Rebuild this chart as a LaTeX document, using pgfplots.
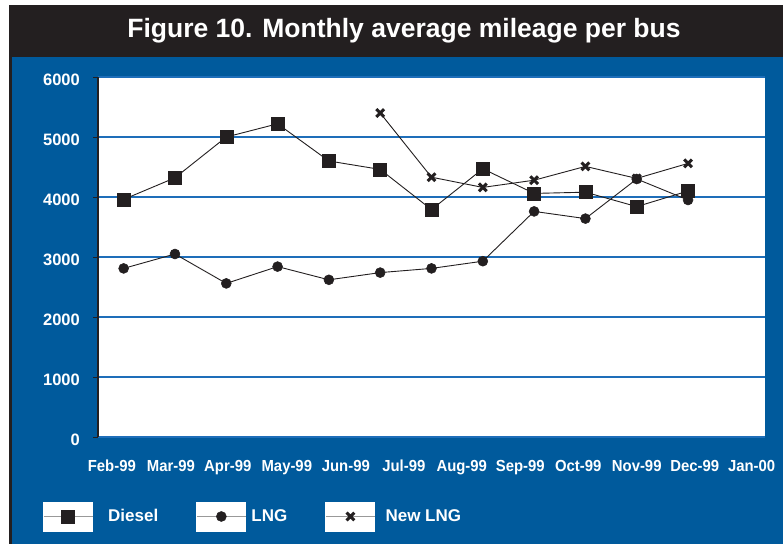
\documentclass[border=0pt]{standalone}
\usepackage{fontspec}
\setmainfont{Liberation Sans}
\newfontfamily\condfont{Liberation Sans}[FakeStretch=0.93]
\usepackage{pgfplots}
\pgfplotsset{compat=1.18}

\definecolor{bgblue}{RGB}{0,90,156}
\definecolor{titlebar}{RGB}{35,31,32}
\definecolor{gridblue}{RGB}{30,110,185}
\definecolor{ink}{RGB}{35,31,32}

\begin{document}
\begin{tikzpicture}[x=1pt,y=1pt]
\useasboundingbox (0,0) rectangle (783,544);
\fill[white] (0,0) rectangle (783,544);
\fill[titlebar] (9,0) rectangle (783,539);
\fill[bgblue] (12,0) rectangle (783,487);
\node[text=white, font=\bfseries\fontsize{26.5}{30}\selectfont] at (404,513)
  {Figure 10. Monthly average mileage per bus};

\begin{axis}[
  at={(98pt,107pt)}, anchor=south west,
  scale only axis, width=667pt, height=360pt,
  xmin=-0.5, xmax=12.5, ymin=0, ymax=6000,
  axis background/.style={fill=white},
  axis y line*=left, axis x line*=bottom,
  x axis line style={draw=none},
  y axis line style={ink, line width=1.2pt},
  tick align=outside, major tick length=5pt,
  ytick={0,1000,2000,3000,4000,5000,6000},
  yticklabels={0,1000,2000,3000,4000,5000,6000},
  ytick style={ink, line width=1pt},
  ymajorgrids,
  major grid style={draw=gridblue, line width=1.1pt},
  yticklabel style={text=white, inner sep=0pt, xshift=-13pt, yshift=-3pt,
    font=\bfseries\fontsize{16.5}{18}\selectfont},
  xtick={-0.23,0.92,2.03,3.18,4.33,5.46,6.59,7.73,8.86,10.00,11.13,12.24},
  xticklabels={Feb-99,Mar-99,Apr-99,May-99,Jun-99,Jul-99,Aug-99,Sep-99,Oct-99,Nov-99,Dec-99,Jan-00},
  xtick style={draw=none},
  xticklabel style={text=white, inner sep=0pt, yshift=-18pt,
    font=\condfont\bfseries\fontsize{16}{18}\selectfont},
  legend image code/.code={
    \fill[white] (0pt,-14.5pt) rectangle (49pt,14.5pt);
    \draw[gray!80, line width=1.2pt] (0pt,0pt) -- (49pt,0pt);
    \draw[#1] plot coordinates {(24.5pt,0pt)};
  },
  legend columns=3,
  legend style={at={(axis description cs:-0.0825,-0.2208)}, anchor=west,
    draw=none, fill=none, inner sep=0pt, outer sep=0pt,
    nodes={inner sep=0pt, text=white, font=\bfseries\fontsize{17}{20}\selectfont},
    /tikz/every odd column/.append style={column sep=5pt},
    /tikz/every even column/.append style={column sep=38pt}},
]
\addplot[ink, line width=0.9pt, mark=square*, mark size=6.5pt,
  mark options={fill=ink, draw=ink, line width=0.5pt}] coordinates {
  (0,3960) (1,4320) (2,5000) (3,5220) (4,4600) (5,4460)
  (6,3790) (7,4470) (8,4060) (9,4080) (10,3840) (11,4100)};
\addlegendentry{\hspace*{10pt}Diesel}
\addplot[ink, line width=0.9pt, mark=*, mark size=5pt,
  mark options={fill=ink, draw=ink, line width=0.5pt}] coordinates {
  (0,2810) (1,3050) (2,2560) (3,2840) (4,2620) (5,2740)
  (6,2810) (7,2930) (8,3760) (9,3640) (10,4300) (11,3950)};
\addlegendentry{LNG}
\addplot[ink, line width=0.9pt, mark=x, mark size=5.5pt,
  mark options={draw=ink, line width=3pt}] coordinates {
  (5,5400) (6,4330) (7,4160) (8,4280) (9,4510) (10,4310) (11,4560)};
\addlegendentry{\hspace*{5pt}New LNG}
\end{axis}
\end{tikzpicture}
\end{document}
